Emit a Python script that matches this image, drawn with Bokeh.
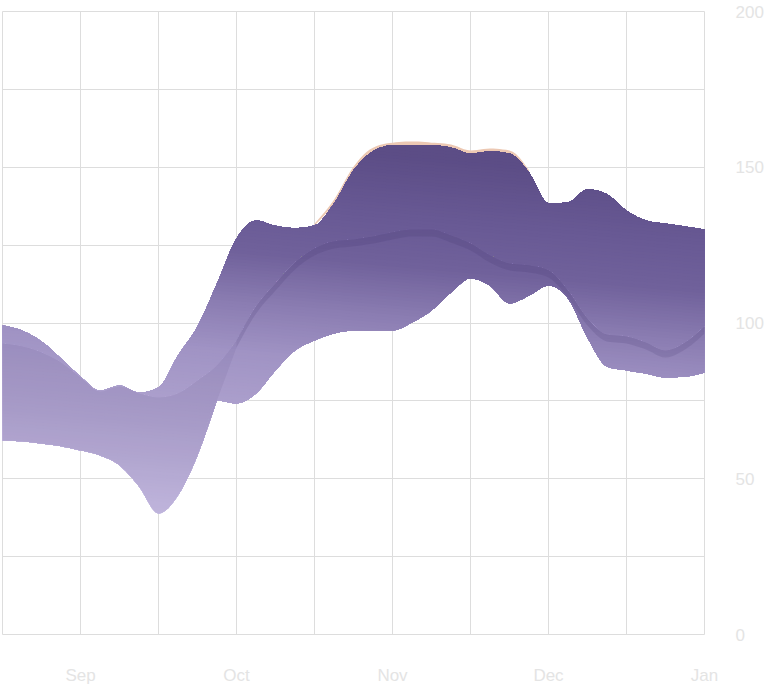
from bokeh.plotting import figure
from bokeh.models import Range1d, FixedTicker
from bokeh.embed import file_html
from bokeh.resources import INLINE

# ---------------- data ----------------
# x positions: quarter steps between the half-month gridlines (mid-Aug .. Jan 1)
x = [0, 0.25, 0.5, 0.75, 1, 1.25, 1.5, 1.75, 2, 2.25, 2.5, 2.75, 3, 3.25, 3.5, 3.75,
     4, 4.25, 4.5, 4.75, 5, 5.25, 5.5, 5.75, 6, 6.25, 6.5, 6.75, 7, 7.25, 7.5, 7.75,
     8, 8.25, 8.5, 8.75, 9]

outer_hi = [99.2, 97.6, 94.1, 88.6, 82.8, 78.3, 79.9, 77.7, 79.3, 89.6, 98.9, 112.7,
            127.1, 132.9, 131.2, 130.5, 131.3, 138.4, 149.0, 155.1, 157.0, 157.0, 157.0,
            156.3, 154.4, 155.1, 154.4, 148.3, 138.4, 138.7, 142.9, 141.3, 136.1, 132.9,
            131.9, 131.0, 130.0]
outer_lo = [62.3, 62.0, 61.3, 60.4, 59.1, 57.5, 54.3, 47.5, 38.8, 44.6, 57.5, 75.1,
            92.1, 103.0, 110.4, 117.2, 121.7, 123.9, 124.6, 125.5, 126.8, 127.8, 127.8,
            125.8, 123.3, 119.4, 116.9, 116.2, 114.6, 108.2, 99.2, 94.1, 93.4, 91.5,
            88.9, 91.5, 96.6]
inner_hi = [93.4, 92.5, 90.5, 87.3, 82.5, 78.0, 79.6, 77.4, 76.1, 77.4, 81.5, 86.4,
            94.4, 105.3, 112.7, 119.4, 123.9, 126.2, 126.8, 127.8, 129.1, 130.0, 130.0,
            128.1, 125.5, 121.7, 119.1, 118.5, 116.9, 110.4, 101.4, 96.3, 95.7, 93.7,
            91.2, 93.7, 98.9]
inner_lo = [62.3, 62.0, 61.3, 60.4, 59.1, 57.5, 54.3, 47.5, 38.8, 44.6, 57.5, 75.1,
            74.2, 77.4, 84.8, 91.2, 94.4, 96.6, 97.6, 97.6, 97.6, 100.2, 104.0, 109.8,
            114.3, 112.0, 106.3, 108.8, 112.0, 107.9, 95.3, 86.0, 84.8, 83.8, 82.5,
            82.8, 84.1]
peach_x = [4, 4.25, 4.5, 4.75, 5, 5.25, 5.5, 5.75, 6, 6.25, 6.5, 6.75]
peach_hi = [131.9, 139.6, 150.2, 156.3, 157.9, 158.3, 157.9, 157.3, 155.4, 156.0, 155.4, 149.0]
peach_lo = [131.3, 138.4, 149.0, 155.1, 157.0, 157.0, 157.0, 156.3, 154.4, 155.1, 154.4, 148.3]

x_ticks = [0, 1, 2, 3, 4, 5, 6, 7, 8, 9]
x_labels = {1: "Sep", 3: "Oct", 5: "Nov", 7: "Dec", 9: "Jan"}
y_ticks = [0, 25, 50, 75, 100, 125, 150, 175, 200]
y_labels = {0: "0", 50: "50", 100: "100", 150: "150", 200: "200"}

# ---------------- styling ----------------
FW, FH = 702, 623
X0, X1, Y0, Y1 = 0, 9, 0, 200
GRID = "#dddddd"
LABEL = "#e4e4e4"
FONT = "Liberation Sans"
TILT = 0.085
SUB = 6  # spline samples per data interval (drawing only)

# gradient stops (screen-space, mostly vertical with a slight tilt)
ramp_t = [110, 170, 220, 270, 320, 400, 500]
ramp_c = [(92, 77, 134), (104, 89, 148), (112, 97, 155), (138, 124, 177),
          (160, 147, 196), (177, 165, 208), (205, 195, 232)]


def spline(xs, ys, sub=SUB):
    """Monotone cubic (d3 curveMonotoneX-like) drawing path through the data points."""
    n = len(xs)
    h = [xs[i + 1] - xs[i] for i in range(n - 1)]
    d = [(ys[i + 1] - ys[i]) / h[i] for i in range(n - 1)]
    m = [0.0] * n
    for i in range(1, n - 1):
        s0, s1 = d[i - 1], d[i]
        if s0 * s1 <= 0:
            m[i] = 0.0
        else:
            pm = (s0 * h[i] + s1 * h[i - 1]) / (h[i - 1] + h[i])
            sg = 1 if s0 > 0 else -1
            m[i] = sg * min(abs(s0), abs(s1), 0.5 * abs(pm)) * 2
    m[0] = (3 * d[0] - m[1]) / 2 if n > 2 else d[0]
    m[-1] = (3 * d[-1] - m[-2]) / 2 if n > 2 else d[-1]
    ox, oy = [], []
    for i in range(n - 1):
        for k in range(sub):
            t = k / sub
            h00 = 2 * t ** 3 - 3 * t ** 2 + 1
            h10 = t ** 3 - 2 * t ** 2 + t
            h01 = -2 * t ** 3 + 3 * t ** 2
            h11 = t ** 3 - t ** 2
            ox.append(xs[i] + t * h[i])
            oy.append(h00 * ys[i] + h10 * h[i] * m[i] + h01 * ys[i + 1] + h11 * h[i] * m[i + 1])
    ox.append(xs[-1])
    oy.append(ys[-1])
    return ox, oy


def ramp(t):
    if t <= ramp_t[0]:
        c = ramp_c[0]
    elif t >= ramp_t[-1]:
        c = ramp_c[-1]
    else:
        for i in range(len(ramp_t) - 1):
            if ramp_t[i] <= t <= ramp_t[i + 1]:
                f = (t - ramp_t[i]) / (ramp_t[i + 1] - ramp_t[i])
                c = tuple(ramp_c[i][j] + f * (ramp_c[i + 1][j] - ramp_c[i][j]) for j in range(3))
                break
    return "#%02x%02x%02x" % tuple(int(round(v)) for v in c)


def tval(u, v):
    px = (u - X0) / (X1 - X0) * FW
    py = (Y1 - v) / (Y1 - Y0) * FH
    return py - TILT * px


def line_at(u, tk):
    px = (u - X0) / (X1 - X0) * FW
    py = tk + TILT * px
    return Y1 - py / FH * (Y1 - Y0)


def layer(xs, hi, lo, tk):
    """Part of the band lying above the gradient iso-line t == tk, as separate pieces."""
    pts = []
    n = len(xs)
    for i in range(n - 1):
        u0, u1 = xs[i], xs[i + 1]
        cuts = [0.0]
        for f0, f1 in ((hi[i], hi[i + 1]), (lo[i], lo[i + 1])):
            d0 = f0 - line_at(u0, tk)
            d1 = f1 - line_at(u1, tk)
            if (d0 > 0) != (d1 > 0) and d0 != d1:
                cuts.append(d0 / (d0 - d1))
        for c in sorted(set(cuts)):
            u = u0 + c * (u1 - u0)
            pts.append((u, hi[i] + c * (hi[i + 1] - hi[i]), lo[i] + c * (lo[i + 1] - lo[i]),
                        line_at(u, tk)))
    pts.append((xs[-1], hi[-1], lo[-1], line_at(xs[-1], tk)))
    pieces, cur = [], []
    for (u, h, l, L) in pts:
        if h >= L - 1e-9:
            cur.append((u, h, max(l, L)))
        else:
            if len(cur) >= 2:
                pieces.append(cur)
            cur = []
    if len(cur) >= 2:
        pieces.append(cur)
    out = []
    for pc in pieces:
        out.append(([q[0] for q in pc] + [q[0] for q in reversed(pc)],
                    [q[1] for q in pc] + [q[2] for q in reversed(pc)]))
    return out


def gradient_band(p, xs, hi, lo, step=3.0):
    sx, shi = spline(xs, hi)
    _, slo = spline(xs, lo)
    ts = [tval(sx[i], shi[i]) for i in range(len(sx))] + [tval(sx[i], slo[i]) for i in range(len(sx))]
    tmin, tmax = min(ts), max(ts)
    pxs, pys, cols = [], [], []
    tk = tmax + step
    while tk > tmin:
        for (a, b) in layer(sx, shi, slo, tk):
            pxs.append(a)
            pys.append(b)
            cols.append(ramp(tk - step / 2))
        tk -= step
    p.patches(pxs, pys, fill_color=cols, line_color=None)


def smooth_varea(p, xs, lo, hi, **kw):
    sx, slo = spline(xs, lo)
    _, shi = spline(xs, hi)
    p.varea(x=sx, y1=slo, y2=shi, **kw)


p = figure(frame_width=FW, frame_height=FH,
           x_range=Range1d(X0, X1), y_range=Range1d(Y0, Y1),
           output_backend="svg", toolbar_location=None,
           y_axis_location="right",
           min_border_left=2, min_border_top=11, min_border_right=0, min_border_bottom=0,
           margin=(0, 0, 0, 0),
           background_fill_color="white", border_fill_color="white",
           outline_line_color=GRID)

# thin peach band just above the purple top in November
smooth_varea(p, peach_x, peach_lo, peach_hi, fill_color="#ecc8b3", fill_alpha=1.0)

gradient_band(p, x, outer_hi, outer_lo)
gradient_band(p, x, inner_hi, inner_lo)

# darker overlap where the two series cover each other
smooth_varea(p, x[:13], outer_lo[:13], inner_hi[:13], fill_color="#3a2c66", fill_alpha=0.07)
smooth_varea(p, x[12:], outer_lo[12:], inner_hi[12:], fill_color="#3a2c66", fill_alpha=0.14)

# axes
xa = p.xaxis[0]
xa.ticker = FixedTicker(ticks=x_ticks)
xa.major_label_overrides = {t: x_labels.get(t, "") for t in x_ticks}
ya = p.yaxis[0]
ya.ticker = FixedTicker(ticks=y_ticks)
ya.major_label_overrides = {t: y_labels.get(t, "") for t in y_ticks}
for ax in (xa, ya):
    ax.axis_line_color = None
    ax.major_tick_line_color = None
    ax.minor_tick_line_color = None
    ax.major_tick_out = 0
    ax.major_tick_in = 0
    ax.major_label_text_color = LABEL
    ax.major_label_text_font = FONT
    ax.major_label_text_font_size = "17px"
    ax.major_label_standoff = 31

p.xgrid.ticker = FixedTicker(ticks=x_ticks)
p.ygrid.ticker = FixedTicker(ticks=y_ticks)
for g in (p.xgrid, p.ygrid):
    g.grid_line_color = GRID
    g.grid_line_width = 1

open("out.html", "w").write(file_html(p, INLINE, title="chart"))
